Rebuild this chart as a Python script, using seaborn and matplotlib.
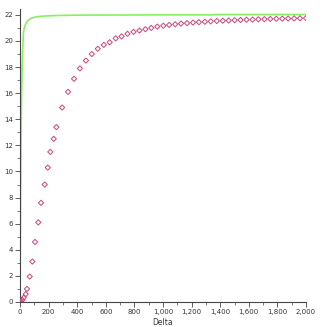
import matplotlib
matplotlib.use("Agg")
import matplotlib.pyplot as plt
from matplotlib.ticker import MultipleLocator, FuncFormatter
import seaborn as sns
import pandas as pd

# Green curve (fast saturation)
line_x = [0, 2, 4, 6, 8, 10, 14, 18, 24, 30, 40, 50, 70, 100, 150, 250, 400, 1000, 1350, 1360, 2000]
line_y = [0.0, 4.5, 8.0, 10.5, 13.0, 15.0, 17.5, 19.2, 20.6, 21.0, 21.3, 21.5, 21.7, 21.82, 21.9, 21.95, 21.98, 22.0, 22.0, 22.03, 22.03]

# Diamond series (slow saturation)
pts_x = [0, 7, 16, 26, 40, 49, 68, 86, 105, 128, 147, 173, 194, 212, 236, 254, 294,
         336, 378, 419, 461, 502, 544, 586, 627, 669, 710, 752, 794, 835, 877, 918, 960,
         1002, 1043, 1085, 1126, 1168, 1210, 1251, 1293, 1334, 1376, 1418, 1459, 1501,
         1542, 1584, 1626, 1667, 1709, 1750, 1792, 1834, 1875, 1917, 1958, 2000]
pts_y = [0.0, 0.02, 0.15, 0.33, 0.6, 1.0, 1.95, 3.1, 4.6, 6.1, 7.6, 9.0, 10.3, 11.5, 12.5, 13.4, 14.9,
         16.1, 17.1, 17.9, 18.5, 19.0, 19.4, 19.7, 19.9, 20.2, 20.35, 20.55, 20.7, 20.8, 20.9, 21.0, 21.1,
         21.17, 21.23, 21.28, 21.33, 21.37, 21.41, 21.44, 21.47, 21.5, 21.53, 21.55, 21.57, 21.59,
         21.61, 21.63, 21.64, 21.66, 21.67, 21.69, 21.7, 21.71, 21.72, 21.73, 21.74, 21.75]

x_label = "Delta"

sns.set_style("ticks")
plt.rcParams['font.family'] = ['DejaVu Sans']

fig = plt.figure(figsize=(3.22, 3.27), dpi=100)
ax = fig.add_axes([20/322, 25/327, 286/322, 293/327])

line_df = pd.DataFrame({"x": line_x, "y": line_y})
pts_df = pd.DataFrame({"x": pts_x, "y": pts_y})

sns.lineplot(data=line_df, x="x", y="y", ax=ax, color="#88f060", linewidth=1.2, zorder=2)
sns.scatterplot(data=pts_df, x="x", y="y", ax=ax, marker="D", s=7,
                facecolor="none", edgecolor="#cc4477", linewidth=0.7, zorder=3)

ax.set_xlim(0, 2000)
ax.set_ylim(0, 22.45)
ax.xaxis.set_major_locator(MultipleLocator(200))
ax.xaxis.set_minor_locator(MultipleLocator(100))
ax.yaxis.set_major_locator(MultipleLocator(2))
ax.yaxis.set_minor_locator(MultipleLocator(1))
ax.xaxis.set_major_formatter(FuncFormatter(lambda v, p: f"{int(v):,}"))
ax.yaxis.set_major_formatter(FuncFormatter(lambda v, p: f"{int(v)}"))

for s in ["top", "right"]:
    ax.spines[s].set_visible(False)
for s in ["left", "bottom"]:
    ax.spines[s].set_color("#444444")
    ax.spines[s].set_linewidth(0.8)

ax.tick_params(axis="both", which="major", length=3.5, width=0.6, color="#444444",
               labelsize=5, labelcolor="#333333", pad=1.5)
ax.tick_params(axis="both", which="minor", length=2, width=0.5, color="#444444")

ax.set_xlabel(x_label, fontsize=5.5, color="#333333", labelpad=2)
ax.set_ylabel("")

fig.savefig("out.png", dpi=100)
